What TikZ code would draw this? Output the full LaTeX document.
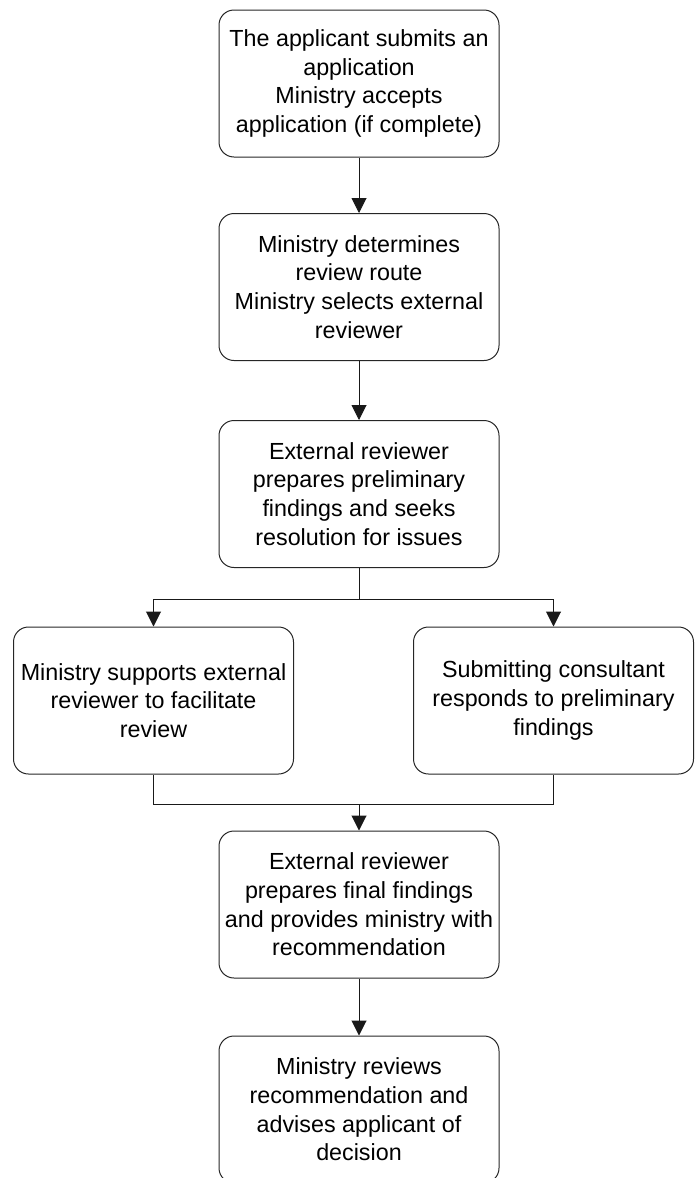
\documentclass[tikz,border=0pt]{standalone}
\usepackage{fontspec}
\setmainfont{Liberation Sans}
\usetikzlibrary{arrows.meta}
\begin{document}
\begin{tikzpicture}[x=1pt,y=-1pt,
  stepbox/.style={draw=black!85, line width=1pt, rounded corners=15pt, minimum width=280pt, minimum height=147pt, align=center, inner sep=0pt, font=\fontsize{23.3}{28.7}\selectfont},
  arr/.style={draw=black!90, line width=1pt, -{Triangle[length=15pt,width=15pt]}},
  ln/.style={draw=black!90, line width=1pt}]
\useasboundingbox (0,0) rectangle (697,1178);
\clip (0,0) rectangle (697,1178);
\node[stepbox] (app) at (359,83.5) {The applicant submits an\\application\\Ministry accepts\\application (if complete)};
\node[stepbox] (route) at (359,287) {Ministry determines\\review route\\Ministry selects external\\reviewer};
\node[stepbox] (prelim) at (359,494) {External reviewer\\prepares preliminary\\findings and seeks\\resolution for issues};
\node[stepbox] (support) at (153.5,700.5) {Ministry supports external\\reviewer to facilitate\\review};
\node[stepbox] (respond) at (553.5,700.5) {Submitting consultant\\responds to preliminary\\findings};
\node[stepbox] (final) at (359,904.5) {External reviewer\\prepares final findings\\and provides ministry with\\recommendation};
\node[stepbox] (decide) at (359,1109.5) {Ministry reviews\\recommendation and\\advises applicant of\\decision};
\coordinate (sy) at (0,599);
\coordinate (my) at (0,804);
\draw[arr] (app) -- (route);
\draw[arr] (route) -- (prelim);
\draw[ln] (prelim.south) -- (prelim.south |- sy);
\draw[arr] (prelim.south |- sy) -| (support.north);
\draw[arr] (prelim.south |- sy) -| (respond.north);
\draw[ln] (support.south) -- (support.south |- my) -- (respond.south |- my) -- (respond.south);
\draw[arr] (final.north |- my) -- (final.north);
\draw[arr] (final) -- (decide);
\end{tikzpicture}
\end{document}
